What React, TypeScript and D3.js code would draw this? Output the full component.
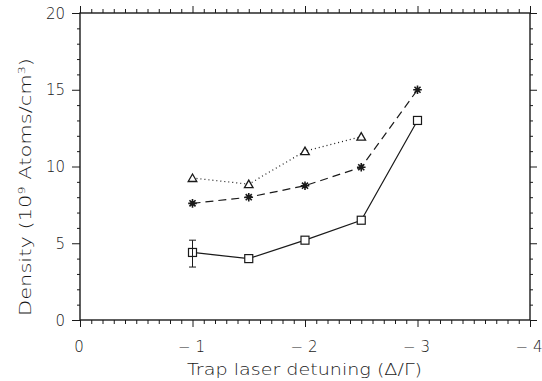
import React, { useEffect, useRef } from "react";
import * as d3 from "d3";

const detuning = [-1, -1.5, -2, -2.5, -3];
const squareDensity = [4.4, 4.0, 5.2, 6.5, 13.0];
const starDensity = [7.6, 8.0, 8.75, 9.95, 15.0];
const triangleDetuning = [-1, -1.5, -2, -2.5];
const triangleDensity = [9.25, 8.85, 11.0, 11.95];
const errorBars = [{ x: -1, lo: 3.45, hi: 5.2 }];
const xMajorTicks = [0, -1, -2, -3, -4];
const xTickLabels = ["0", "\u2212 1", "\u2212 2", "\u2212 3", "\u2212 4"];
const yMajorTicks = [0, 5, 10, 15, 20];
const yTickLabels = ["0", "5", "10", "15", "20"];

const W = 542;
const H = 381;
const M = { left: 80, right: 12, top: 13, bottom: 61 };
const FONT = "'DejaVu Sans', 'Liberation Sans', sans-serif";
const INK = "#1a1a1a";

export default function App() {
  const ref = useRef<SVGSVGElement>(null);
  useEffect(() => {
    const svg = d3.select(ref.current);
    svg.selectAll("*").remove();
    const x = d3.scaleLinear().domain([0, -4]).range([M.left, W - M.right]);
    const y = d3.scaleLinear().domain([0, 20]).range([H - M.bottom, M.top]);
    const x0 = M.left, x1 = W - M.right, y0 = H - M.bottom, y1 = M.top;

    const xMinor = d3.range(0, 41).map((i) => -i / 10).filter((v) => Math.abs(v - Math.round(v)) > 1e-6);
    const yMinor = d3.range(0, 21).filter((v) => v % 5 !== 0);

    const g = svg.append("g");
    const addAxis = (axis: any, tr: string) => {
      const a = g.append("g").attr("transform", tr).call(axis);
      a.select(".domain").remove();
      a.selectAll("line").attr("stroke", INK).attr("stroke-width", 1);
      a.selectAll("text").remove();
    };
    addAxis(d3.axisBottom(x).tickValues(xMinor).tickSize(4), `translate(0,${y0})`);
    addAxis(d3.axisBottom(x).tickValues(xMajorTicks).tickSize(7), `translate(0,${y0})`);
    addAxis(d3.axisTop(x).tickValues(xMinor).tickSize(4), `translate(0,${y1})`);
    addAxis(d3.axisTop(x).tickValues(xMajorTicks).tickSize(7), `translate(0,${y1})`);
    addAxis(d3.axisLeft(y).tickValues(yMinor).tickSize(3), `translate(${x0},0)`);
    addAxis(d3.axisLeft(y).tickValues(yMajorTicks).tickSize(8), `translate(${x0},0)`);
    addAxis(d3.axisRight(y).tickValues(yMinor).tickSize(3), `translate(${x1},0)`);
    addAxis(d3.axisRight(y).tickValues(yMajorTicks).tickSize(7), `translate(${x1},0)`);

    g.append("rect")
      .attr("x", x0).attr("y", y1).attr("width", x1 - x0).attr("height", y0 - y1)
      .attr("fill", "none").attr("stroke", INK).attr("stroke-width", 1.4);

    const txt = (sel: any) => sel.attr("font-family", FONT).attr("font-weight", 200).attr("fill", INK);

    g.selectAll(".xl").data(xMajorTicks).enter().append("text")
      .attr("x", (d) => x(d) - 1).attr("y", 352)
      .attr("text-anchor", "middle").attr("font-size", 15)
      .call(txt)
      .text((d, i) => xTickLabels[i]);
    g.selectAll(".yl").data(yMajorTicks).enter().append("text")
      .attr("x", 65).attr("y", (d) => y(d) + 5.5)
      .attr("text-anchor", "end").attr("font-size", 15)
      .call(txt)
      .text((d, i) => yTickLabels[i]);

    g.append("text").attr("x", 304.5).attr("y", 375).attr("text-anchor", "middle")
      .attr("font-size", 15).call(txt)
      .attr("textLength", 235).attr("lengthAdjust", "spacingAndGlyphs")
      .text("Trap laser detuning (\u0394/\u0393)");
    const yt = g.append("text").attr("transform", "translate(31,187) rotate(-90)")
      .attr("text-anchor", "middle").attr("font-size", 15).call(txt)
      .attr("textLength", 258).attr("lengthAdjust", "spacingAndGlyphs");
    yt.append("tspan").text("Density (10");
    yt.append("tspan").attr("dy", -6).attr("font-size", 9).text("9");
    yt.append("tspan").attr("dy", 6).text(" Atoms/cm");
    yt.append("tspan").attr("dy", -6).attr("font-size", 9).text("3");
    yt.append("tspan").attr("dy", 6).text(")");

    const line = d3.line<[number, number]>().x((d) => x(d[0])).y((d) => y(d[1]));
    const sq = detuning.map((d, i) => [d, squareDensity[i]] as [number, number]);
    const st = detuning.map((d, i) => [d, starDensity[i]] as [number, number]);
    const tr = triangleDetuning.map((d, i) => [d, triangleDensity[i]] as [number, number]);

    g.append("path").attr("d", line(sq)).attr("fill", "none").attr("stroke", INK).attr("stroke-width", 1.2);
    g.append("path").attr("d", line(st)).attr("fill", "none").attr("stroke", INK).attr("stroke-width", 1.2)
      .attr("stroke-dasharray", "8,5");
    g.append("path").attr("d", line(tr)).attr("fill", "none").attr("stroke", INK).attr("stroke-width", 1.2)
      .attr("stroke-dasharray", "1,3");

    g.selectAll(".sq").data(sq).enter().append("rect")
      .attr("x", (d) => x(d[0]) - 4).attr("y", (d) => y(d[1]) - 4)
      .attr("width", 8).attr("height", 8)
      .attr("fill", "white").attr("stroke", INK).attr("stroke-width", 1.2);

    errorBars.forEach((e) => {
      const ex = x(e.x);
      g.append("line").attr("x1", ex).attr("x2", ex).attr("y1", y(e.lo)).attr("y2", y(e.hi))
        .attr("stroke", INK).attr("stroke-width", 1);
      [e.lo, e.hi].forEach((v) => {
        g.append("line").attr("x1", ex - 3.5).attr("x2", ex + 3.5).attr("y1", y(v)).attr("y2", y(v))
          .attr("stroke", INK).attr("stroke-width", 1);
      });
    });

    st.forEach((d) => {
      const cx = x(d[0]), cy = y(d[1]);
      const r = 4.3;
      const path = d3.path();
      for (let k = 0; k < 4; k++) {
        const a = (k * Math.PI) / 4;
        path.moveTo(cx - r * Math.cos(a), cy - r * Math.sin(a));
        path.lineTo(cx + r * Math.cos(a), cy + r * Math.sin(a));
      }
      g.append("path").attr("d", path.toString()).attr("stroke", INK).attr("stroke-width", 1.6).attr("fill", "none");
      g.append("circle").attr("cx", cx).attr("cy", cy).attr("r", 2).attr("fill", INK);
    });
    tr.forEach((d) => {
      const cx = x(d[0]), cy = y(d[1]);
      const p = d3.path();
      p.moveTo(cx, cy - 4);
      p.lineTo(cx + 4.3, cy + 3.5);
      p.lineTo(cx - 4.3, cy + 3.5);
      p.closePath();
      g.append("path").attr("d", p.toString()).attr("fill", "white").attr("stroke", INK).attr("stroke-width", 1.3);
    });
  }, []);

  return (
    <div style={{ position: "absolute", left: 0, top: 0 }}>
      <svg ref={ref} width={W} height={H} style={{ display: "block", background: "white" }} />
    </div>
  );
}
